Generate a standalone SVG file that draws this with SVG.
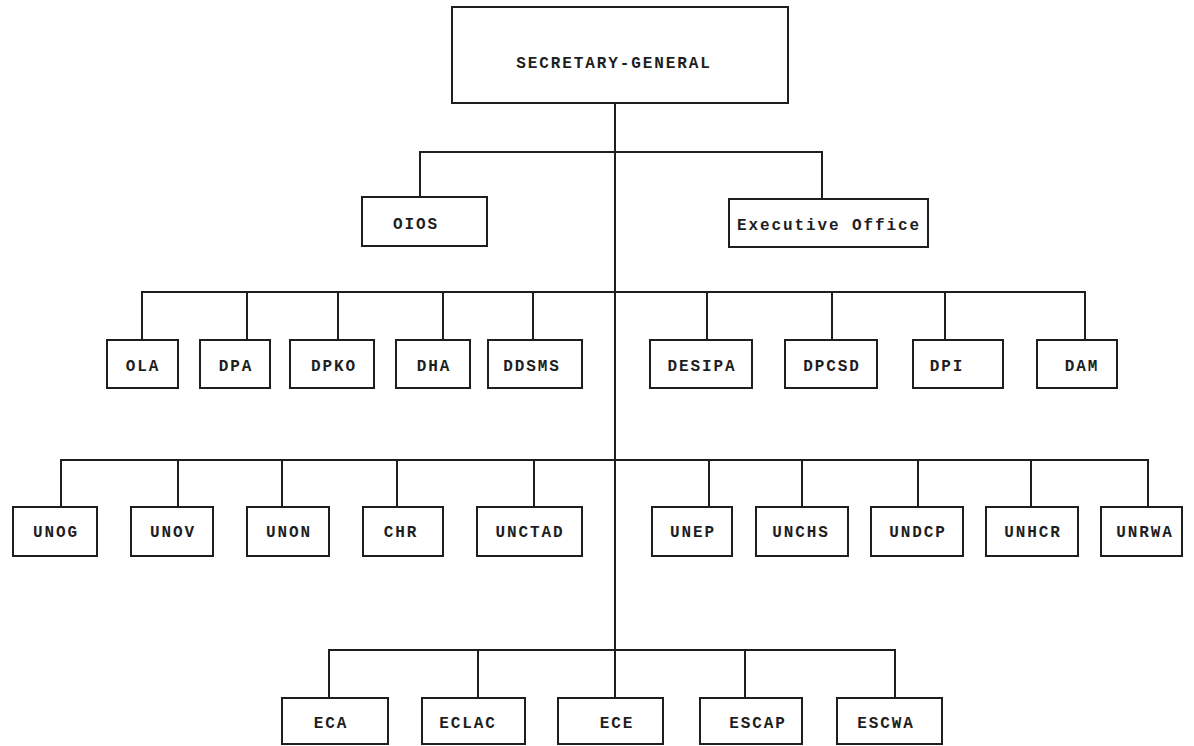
<svg xmlns="http://www.w3.org/2000/svg" width="1194" height="746" viewBox="0 0 1194 746">
<style>
.bg{fill:#ffffff}
.box{fill:#ffffff;stroke:#1e1e1e;stroke-width:2}
.lbl{font-family:"Liberation Mono","DejaVu Sans Mono",monospace;font-weight:bold;font-size:16px;letter-spacing:1.9px;fill:#1e1e1e;text-anchor:middle}
.conn{fill:none;stroke:#1e1e1e;stroke-width:2}
</style>
<rect class="bg" x="0" y="0" width="1194" height="746"/>
<g id="connectors">
<path class="conn" d="M615,103 V650"/>
<path class="conn" d="M420,197 V152 H822 V199"/>
<path class="conn" d="M142,340 V292 H1085 V340"/>
<path class="conn" d="M247,292 V340 M338,292 V340 M443,292 V340 M533,292 V340 M707,292 V340 M832,292 V340 M945,292 V340"/>
<path class="conn" d="M61,507 V460 H1148 V507"/>
<path class="conn" d="M178,460 V507 M282,460 V507 M397,460 V507 M534,460 V507 M709,460 V507 M802,460 V507 M918,460 V507 M1031,460 V507"/>
<path class="conn" d="M329,698 V650 H895 V698"/>
<path class="conn" d="M478,650 V698 M615,650 V698 M745,650 V698"/>
</g>
<g id="sg"><rect class="box" x="452" y="7" width="336" height="96"/><text class="lbl" x="614" y="68">SECRETARY-GENERAL</text></g>
<g id="oios"><rect class="box" x="362" y="197" width="125" height="49"/><text class="lbl" x="416" y="229">OIOS</text></g>
<g id="exec"><rect class="box" x="729" y="199" width="199" height="48"/><text class="lbl" x="829" y="230">Executive Office</text></g>
<g id="ola"><rect class="box" x="107" y="340" width="71" height="48"/><text class="lbl" x="143" y="371">OLA</text></g>
<g id="dpa"><rect class="box" x="200" y="340" width="70" height="48"/><text class="lbl" x="236" y="371">DPA</text></g>
<g id="dpko"><rect class="box" x="290" y="340" width="84" height="48"/><text class="lbl" x="334" y="371">DPKO</text></g>
<g id="dha"><rect class="box" x="396" y="340" width="74" height="48"/><text class="lbl" x="434" y="371">DHA</text></g>
<g id="ddsms"><rect class="box" x="488" y="340" width="94" height="48"/><text class="lbl" x="532" y="371">DDSMS</text></g>
<g id="desipa"><rect class="box" x="650" y="340" width="102" height="48"/><text class="lbl" x="702" y="371">DESIPA</text></g>
<g id="dpcsd"><rect class="box" x="785" y="340" width="92" height="48"/><text class="lbl" x="832" y="371">DPCSD</text></g>
<g id="dpi"><rect class="box" x="913" y="340" width="90" height="48"/><text class="lbl" x="947" y="371">DPI</text></g>
<g id="dam"><rect class="box" x="1037" y="340" width="80" height="48"/><text class="lbl" x="1082" y="371">DAM</text></g>
<g id="unog"><rect class="box" x="13" y="507" width="84" height="49"/><text class="lbl" x="56" y="537">UNOG</text></g>
<g id="unov"><rect class="box" x="131" y="507" width="82" height="49"/><text class="lbl" x="173" y="537">UNOV</text></g>
<g id="unon"><rect class="box" x="247" y="507" width="82" height="49"/><text class="lbl" x="289" y="537">UNON</text></g>
<g id="chr"><rect class="box" x="363" y="507" width="80" height="49"/><text class="lbl" x="401" y="537">CHR</text></g>
<g id="unctad"><rect class="box" x="477" y="507" width="105" height="49"/><text class="lbl" x="530" y="537">UNCTAD</text></g>
<g id="unep"><rect class="box" x="652" y="507" width="80" height="49"/><text class="lbl" x="693" y="537">UNEP</text></g>
<g id="unchs"><rect class="box" x="756" y="507" width="92" height="49"/><text class="lbl" x="801" y="537">UNCHS</text></g>
<g id="undcp"><rect class="box" x="871" y="507" width="92" height="49"/><text class="lbl" x="918" y="537">UNDCP</text></g>
<g id="unhcr"><rect class="box" x="986" y="507" width="92" height="49"/><text class="lbl" x="1033" y="537">UNHCR</text></g>
<g id="unrwa"><rect class="box" x="1101" y="507" width="81" height="49"/><text class="lbl" x="1145" y="537">UNRWA</text></g>
<g id="eca"><rect class="box" x="282" y="698" width="106" height="46"/><text class="lbl" x="331" y="728">ECA</text></g>
<g id="eclac"><rect class="box" x="422" y="698" width="103" height="46"/><text class="lbl" x="468" y="728">ECLAC</text></g>
<g id="ece"><rect class="box" x="558" y="698" width="105" height="46"/><text class="lbl" x="617" y="728">ECE</text></g>
<g id="escap"><rect class="box" x="700" y="698" width="102" height="46"/><text class="lbl" x="758" y="728">ESCAP</text></g>
<g id="escwa"><rect class="box" x="837" y="698" width="105" height="46"/><text class="lbl" x="886" y="728">ESCWA</text></g>
</svg>
